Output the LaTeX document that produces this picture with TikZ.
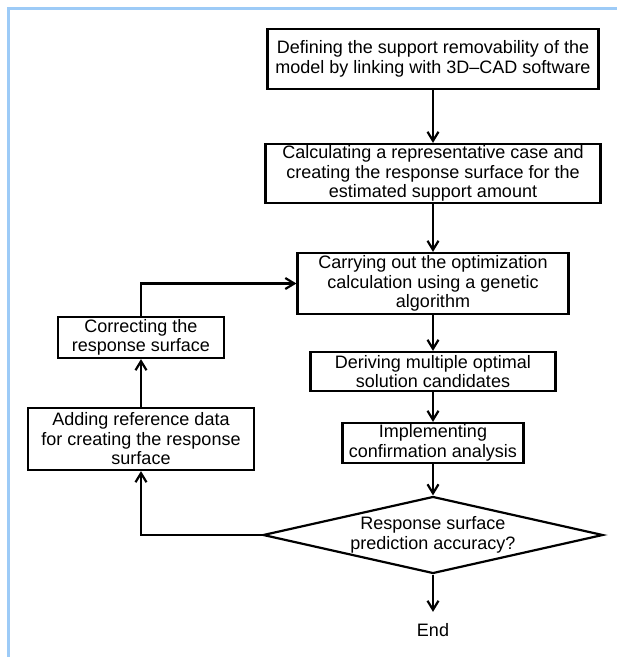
\documentclass[tikz,border=0pt]{standalone}
\usepackage{fontspec}
\setmainfont{Liberation Sans}
\usetikzlibrary{
  arrows.meta,      % open barb tips
  shapes.geometric  % decision diamond
}
\definecolor{frameblue}{HTML}{9DCBF7}

\tikzset{
  stepbox/.style={draw, line width=2.2pt, align=center, inner sep=0pt,
    font=\fontsize{18}{19.5}\selectfont},
  decision/.style={draw, diamond, aspect=4.4, line width=2.2pt, align=center,
    inner sep=0pt, font=\fontsize{18}{19.5}\selectfont},
  flow/.style={line width=2.2pt, -{Straight Barb[length=9pt,width=11pt]}},
}

\begin{document}
\begin{tikzpicture}[x=1pt, y=-1pt]
  \def\xMain{433}   % main column
  \def\xSide{141}   % side (correction) column
  \useasboundingbox (0,0) rectangle (617,657);
  \draw[line width=3pt, frameblue] (617,8.5) -- (8.5,8.5) -- (8.5,657);
  % main column
  \node[stepbox, minimum width=331pt, minimum height=60pt] (define) at (\xMain,59)
    {Defining the support removability of the\\model by linking with 3D--CAD software};
  \node[stepbox, minimum width=335pt, minimum height=59pt] (surface) at (\xMain,173.5)
    {Calculating a representative case and\\creating the response surface for the\\estimated support amount};
  \node[stepbox, minimum width=271pt, minimum height=61pt] (optimize) at (\xMain,283.5)
    {Carrying out the optimization\\calculation using a genetic\\algorithm};
  \node[stepbox, minimum width=245pt, minimum height=39pt] (derive) at (\xMain,371.5)
    {Deriving multiple optimal\\solution candidates};
  \node[stepbox, minimum width=181pt, minimum height=40pt] (confirm) at (\xMain,443)
    {Implementing\\confirmation analysis};
  \node[decision, minimum width=340pt, minimum height=77pt] (accuracy) at (\xMain,535)
    {Response surface\\prediction accuracy?};
  \node[font=\fontsize{18}{19.5}\selectfont] (finish) at (\xMain,630) {End};
  % side column
  \node[stepbox, minimum width=166pt, minimum height=41pt] (correct) at (\xSide,337.5)
    {Correcting the\\response surface};
  \node[stepbox, minimum width=226pt, minimum height=62pt] (adddata) at (\xSide,439)
    {Adding reference data\\for creating the response\\surface};
  % connectors
  \draw[flow] (define) -- (surface);
  \draw[flow] (surface) -- (optimize);
  \draw[flow] (optimize) -- (derive);
  \draw[flow] (derive) -- (confirm);
  \draw[flow] (confirm) -- (accuracy);
  \draw[flow, shorten >=8pt] (accuracy.south) -- (finish.north);
  \draw[flow] (accuracy.west) -| (adddata.south);
  \draw[flow] (adddata) -- (correct);
  \draw[flow] (correct.north) |- (optimize.west);
\end{tikzpicture}
\end{document}
